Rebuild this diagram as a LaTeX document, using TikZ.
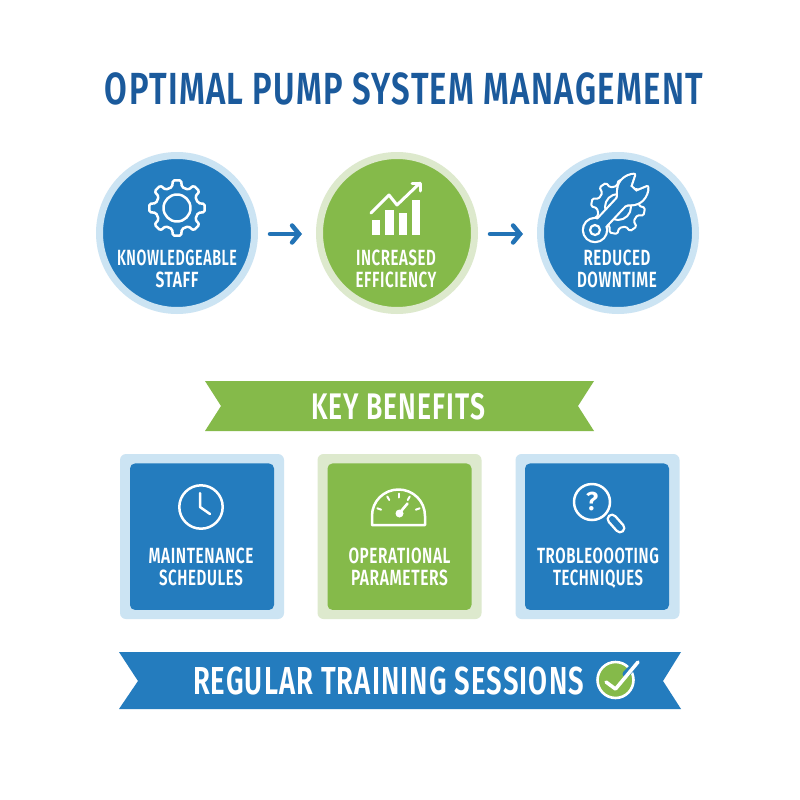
\documentclass[tikz,border=0pt]{standalone}
\usepackage{fontspec}
\usepackage{graphicx}
\setmainfont{Fira Sans}[BoldFont={Fira Sans SemiBold},LetterSpace=4]
\usetikzlibrary{arrows.meta,calc}
\definecolor{bluemain}{HTML}{247CBE}
\definecolor{bluelight}{HTML}{CCE4F3}
\definecolor{greenmain}{HTML}{85BA4A}
\definecolor{greenlight}{HTML}{DDE9CD}
\definecolor{titleblue}{HTML}{1B5A9C}
\definecolor{arrowblue}{HTML}{2273B6}
\newcommand{\fitline}[2]{\resizebox{#1pt}{\height}{#2}}
\tikzset{
  disc/.style={circle,draw=#1,line width=7pt,minimum size=155pt,inner sep=0pt},
  label text/.style={text=white,font=\bfseries\fontsize{22}{21.5}\selectfont,align=center,anchor=base,inner sep=0pt},
  flow/.style={draw=arrowblue,line width=4.5pt,line cap=round,shorten <=12pt,shorten >=14pt,-{Straight Barb[length=7pt,width=17pt,line width=4.5pt,line cap=round]}},
  icon/.style={draw=white,line width=2.5pt,line cap=round,line join=round},
  plate/.style={rectangle,rounded corners=6pt,minimum width=164pt,minimum height=165pt,inner sep=0pt,fill=#1},
  panel/.style={rectangle,rounded corners=5pt,minimum width=144pt,minimum height=146.5pt,inner sep=0pt,fill=#1},
  ribbon text/.style={text=white,font=\bfseries\fontsize{39}{39}\selectfont,anchor=base,inner sep=0pt},
}
\begin{document}
\begin{tikzpicture}[x=1pt,y=-1pt]
\useasboundingbox (0,0) rectangle (800,800);
\fill[white] (0,0) rectangle (800,800);

% title
\node[text=titleblue,font=\bfseries\fontsize{45}{45}\selectfont,anchor=base,inner sep=0pt] (title) at (404,105) {\fitline{598}{OPTIMAL PUMP SYSTEM MANAGEMENT}};

% circles
\node[disc=bluelight,fill=bluemain] (c1) at (177,233) {};
\node[disc=greenlight,fill=greenmain] (c2) at (397,233) {};
\node[disc=bluelight,fill=bluemain] (c3) at (618,233) {};
\draw[flow] ($(c1.east)+(0,1)$) -- ($(c2.west)+(0,1)$);
\draw[flow] ($(c2.east)+(0,1)$) -- ($(c3.west)+(0,1)$);

\node[label text] (t1) at (177,287) {\fitline{120}{KNOWLEDGEABLE}\\\fitline{43}{STAFF}};
\node[label text] (t2) at (396,287) {\fitline{80}{INCREASED}\\\fitline{81}{EFFICIENCY}};
\node[label text] (t3) at (617,287) {\fitline{67}{REDUCED}\\\fitline{80}{DOWNTIME}};

% gear icon
\begin{scope}[shift={(177,208)}]
  \draw[icon,rounded corners=1.5pt] (-13:21.5)
    \foreach \a in {0,45,...,315} { -- (\a-13:21.5) -- (\a-8.5:28) -- (\a+8.5:28) -- (\a+13:21.5) } -- cycle;
  \draw[icon] (0,0) circle (13.5);
\end{scope}

% chart icon
\fill[white] (372,220) rectangle (380,235);
\fill[white] (385,210) rectangle (394,235);
\fill[white] (399,213) rectangle (407,235);
\fill[white] (412,200) rectangle (420,235);
\draw[icon,line width=3pt] (371,213) -- (389,195) -- (397,205) -- (420,183);
\draw[icon,line width=3pt] (412,183) -- (420,183) -- (420,191);

% wrench and gear icon
\begin{scope}[shift={(618,207)}]
  \draw[icon,line width=2pt,rounded corners=1.5pt] (-3:21)
    \foreach \a in {10,55,...,325} { -- (\a-13:21) -- (\a-8.5:27) -- (\a+8.5:27) -- (\a+13:21) } -- cycle;
  \draw[icon,line width=2pt] (0,0) circle (13);
\end{scope}
\begin{scope}[shift={(595,230)},rotate=47]
  \def\wrenchhead{(8,-5) -- (38,-5) .. controls (42,-5) and (44,-13) .. (54,-14) .. controls (60,-14) and (64,-12) .. (67,-9) -- (56,-4) -- (56,4) -- (67,9) .. controls (64,12) and (60,14) .. (54,14) .. controls (44,13) and (42,5) .. (38,5) -- (8,5) -- cycle}
  \draw[white,line width=4.4pt,line join=round] (0,0) circle (11);
  \draw[white,line width=4.4pt,line join=round] \wrenchhead;
  \fill[bluemain] (0,0) circle (11);
  \fill[bluemain] \wrenchhead;
  \draw[icon,line width=2.2pt] (0,0) circle (5);
\end{scope}

% key benefits ribbon
\fill[greenmain] (205,381) -- (594,381) -- (578,406) -- (594,431) -- (205,431) -- (221,406) -- cycle;
\node[ribbon text,font=\bfseries\fontsize{37}{37}\selectfont] (kb) at (398,419) {\fitline{174}{KEY BENEFITS}};

% panels
\node[plate=bluelight] (p1o) at (202,536.5) {};
\node[panel=bluemain] (p1) at (202,536.7) {};
\node[plate=greenlight] (p2o) at (399.5,536.5) {};
\node[panel=greenmain] (p2) at (399.5,536.7) {};
\node[plate=bluelight] (p3o) at (597.5,536.5) {};
\node[panel=bluemain] (p3) at (597,536.7) {};

\node[label text] (t4) at (201,585) {\fitline{105}{MAINTENANCE}\\\fitline{84}{SCHEDULES}};
\node[label text] (t5) at (399.5,585) {\fitline{102}{OPERATIONAL}\\\fitline{97}{PARAMETERS}};
\node[label text] (t6) at (598,585) {\fitline{122}{TROBLEOOOTING}\\\fitline{90}{TECHNIQUES}};

% clock
\draw[icon] (201,507) circle (21.7);
\draw[icon] (200,493) -- (200,507) -- (210,514);

% gauge
\draw[icon] (372,525) -- (372,516) .. controls (372,501) and (384,489.5) .. (398.5,489.5) .. controls (413,489.5) and (425,501) .. (425,516) -- (425,525) -- cycle;
\foreach \a in {-20,-60,-90,-120,-160} \draw[icon,line width=2pt] (398.5,516) ++(\a:18.5) -- ++(\a:4);
\fill[white] (399.5,513.5) circle (4);
\draw[white,line width=2.6pt,line cap=round] (399.5,513) -- (407.5,503.5);

% magnifier
\draw[icon] (592,502) circle (18);
\draw[white,line width=11pt,line cap=round] (612,519) -- (620,528);
\draw[bluemain,line width=6pt,line cap=round] (612,519) -- (620,528);
\node[text=white,font=\bfseries\fontsize{26}{26}\selectfont,inner sep=0pt] (qm) at (592,501) {?};

% training ribbon
\fill[bluemain] (119,652) -- (681,652) -- (663,681) -- (681,709) -- (119,709) -- (138,681) -- cycle;
\node[ribbon text] (rt) at (388.5,694) {\fitline{391}{REGULAR TRAINING SESSIONS}};

% check badge
\draw[draw=white,line width=2.6pt,fill=greenmain] (615.5,680) circle (18);
\draw[bluemain,line width=7pt,line cap=round] (626,674) -- (638,662);
\draw[icon,line width=3.5pt] (606,682) -- (615.5,689) -- (638,662);
\end{tikzpicture}
\end{document}
